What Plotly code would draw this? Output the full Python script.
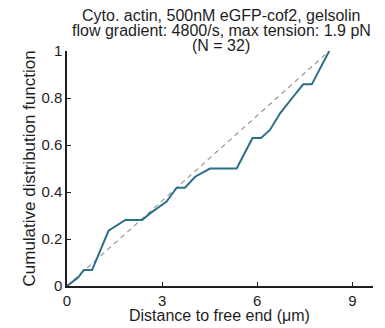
import plotly.graph_objects as go

# CDF vertices
dist_um = [0, 0.35, 0.53, 0.79, 1.31, 1.52, 1.84, 2.37, 2.62, 3.14, 3.46, 3.72,
           4.04, 4.51, 5.35, 5.85, 6.12, 6.40, 6.72, 7.10, 7.45, 7.72, 8.27]
cdf = [0, 0.036, 0.068, 0.068, 0.235, 0.252, 0.281, 0.281, 0.309, 0.359, 0.418, 0.418,
       0.465, 0.50, 0.50, 0.63, 0.63, 0.664, 0.735, 0.80, 0.858, 0.858, 1.0]
ref_x = [0, 8.27]
ref_y = [0, 1]
x_ticks = [0, 3, 6, 9]
y_ticks = [0, 0.2, 0.4, 0.6, 0.8, 1]
y_ticklabels = ["0", "0.2", "0.4", "0.6", "0.8", "1"]
title_lines = ["Cyto. actin, 500nM eGFP-cof2, gelsolin",
               "flow gradient: 4800/s, max tension: 1.9 pN",
               "(N = 32)"]
x_title = "Distance to free end (μm)"
y_title = "Cumulative distribution function"

FONT = "Liberation Sans, Arial, sans-serif"
TXT = "#1e1e1e"

W, H = 385, 328
ML, MR, MT, MB = 67, 12, 51, 42
PW, PH = W - ML - MR, H - MT - MB


def py(p):  # pixel row -> paper y
    return (H - MB - p) / PH


def px(p):  # pixel column -> paper x
    return (p - ML) / PW


fig = go.Figure()
fig.add_trace(go.Scatter(x=ref_x, y=ref_y, mode="lines",
                         line=dict(color="#9a9a9a", width=1.2, dash="5px,4px"),
                         hoverinfo="skip", showlegend=False))
fig.add_trace(go.Scatter(x=dist_um, y=cdf, mode="lines",
                         line=dict(color="#2b6f86", width=2),
                         showlegend=False, cliponaxis=False))

annotations = []
title_rows = [15.5, 30.8, 45.5]
for txt, row in zip(title_lines, title_rows):
    annotations.append(dict(text=txt, x=px(221), y=py(row), xref="paper", yref="paper",
                            xanchor="center", yanchor="middle", showarrow=False,
                            font=dict(family=FONT, size=16, color=TXT)))
annotations.append(dict(text=x_title, x=px(219), y=py(315), xref="paper", yref="paper",
                        xanchor="center", yanchor="middle", showarrow=False,
                        font=dict(family=FONT, size=16, color=TXT)))
annotations.append(dict(text=y_title, x=px(29), y=py(168.5), xref="paper", yref="paper",
                        xanchor="center", yanchor="middle", showarrow=False, textangle=-90,
                        font=dict(family=FONT, size=17, color=TXT)))

fig.update_layout(
    width=W, height=H,
    margin=dict(l=ML, r=MR, t=MT, b=MB),
    paper_bgcolor="white", plot_bgcolor="white",
    font=dict(family=FONT, size=15, color=TXT),
    annotations=annotations,
    xaxis=dict(range=[0, 9.65], tickvals=x_ticks, ticks="inside", ticklen=4,
               tickwidth=1, tickcolor=TXT, showline=True, linecolor=TXT, linewidth=1.5,
               showgrid=False, zeroline=False, fixedrange=True,
               tickfont=dict(size=15)),
    yaxis=dict(range=[0, 1], tickvals=y_ticks, ticktext=y_ticklabels, ticks="inside",
               ticklen=4, tickwidth=1, tickcolor=TXT, showline=True, linecolor=TXT,
               linewidth=1.5, showgrid=False, zeroline=False, fixedrange=True,
               tickfont=dict(size=15)),
)

fig.write_html("out.html")
